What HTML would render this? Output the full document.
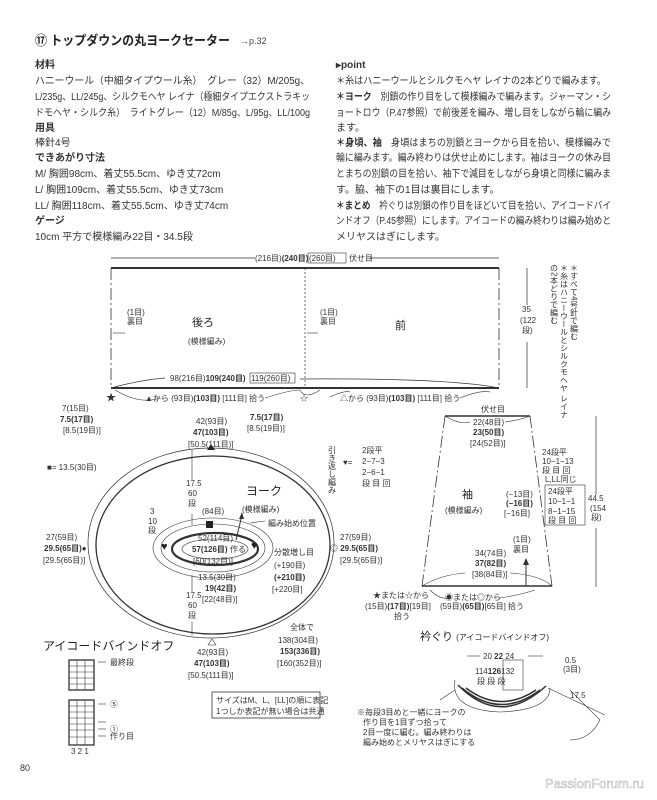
<!DOCTYPE html>
<html><head><meta charset="utf-8"><style>
body{margin:0;background:#fff;}
svg{display:block;font-family:"Liberation Sans","Noto Sans CJK JP",sans-serif;}
.t{font-size:10px;fill:#333;}
.s{font-size:8px;fill:#333;}
.b{font-weight:bold;}
</style></head><body>
<svg width="657" height="800" viewBox="0 0 657 800" xmlns="http://www.w3.org/2000/svg">
<!-- header -->
<text x="35" y="45" font-size="13" font-weight="bold" fill="#222" textLength="195" lengthAdjust="spacingAndGlyphs">⑰ トップダウンの丸ヨークセーター</text>
<text x="240" y="44" font-size="9" fill="#444">→p.32</text>
<g class="t" font-size="10">
<text x="35" y="68" class="b">材料</text>
<text x="35" y="84" textLength="275" lengthAdjust="spacingAndGlyphs">ハニーウール（中細タイプウール糸）　グレー（32）M/205g、</text>
<text x="35" y="100" textLength="275" lengthAdjust="spacingAndGlyphs">L/235g、LL/245g、シルクモヘヤ レイナ（極細タイプエクストラキッ</text>
<text x="35" y="116" textLength="275" lengthAdjust="spacingAndGlyphs">ドモヘヤ・シルク糸）　ライトグレー（12）M/85g、L/95g、LL/100g</text>
<text x="35" y="131" class="b">用具</text>
<text x="35" y="146">棒針4号</text>
<text x="35" y="161" class="b">できあがり寸法</text>
<text x="35" y="177">M/ 胸囲98cm、着丈55.5cm、ゆき丈72cm</text>
<text x="35" y="193">L/ 胸囲109cm、着丈55.5cm、ゆき丈73cm</text>
<text x="35" y="209">LL/ 胸囲118cm、着丈55.5cm、ゆき丈74cm</text>
<text x="35" y="224" class="b">ゲージ</text>
<text x="35" y="240">10cm 平方で模様編み22目・34.5段</text>
<text x="336" y="68" class="b">▸point</text>
<text x="336" y="84" textLength="270" lengthAdjust="spacingAndGlyphs">＊糸はハニーウールとシルクモヘヤ レイナの2本どりで編みます。</text>
<text x="336" y="100" textLength="275" lengthAdjust="spacingAndGlyphs"><tspan class="b">＊ヨーク</tspan>　別鎖の作り目をして模様編みで編みます。ジャーマン・シ</text>
<text x="336" y="116" textLength="275" lengthAdjust="spacingAndGlyphs">ョートロウ（P.47参照）で前後差を編み、増し目をしながら輪に編み</text>
<text x="336" y="131">ます。</text>
<text x="336" y="146" textLength="275" lengthAdjust="spacingAndGlyphs"><tspan class="b">＊身頃、袖</tspan>　身頃はまちの別鎖とヨークから目を拾い、模様編みで</text>
<text x="336" y="161" textLength="275" lengthAdjust="spacingAndGlyphs">輪に編みます。編み終わりは伏せ止めにします。袖はヨークの休み目</text>
<text x="336" y="177" textLength="275" lengthAdjust="spacingAndGlyphs">とまちの別鎖の目を拾い、袖下で減目をしながら身頃と同様に編みま</text>
<text x="336" y="193">す。脇、袖下の1目は裏目にします。</text>
<text x="336" y="209" textLength="275" lengthAdjust="spacingAndGlyphs"><tspan class="b">＊まとめ</tspan>　衿ぐりは別鎖の作り目をほどいて目を拾い、アイコードバイ</text>
<text x="336" y="224" textLength="275" lengthAdjust="spacingAndGlyphs">ンドオフ（P.45参照）にします。アイコードの編み終わりは編み始めと</text>
<text x="336" y="240">メリヤスはぎにします。</text>
</g>
<!-- vertical notes -->
<text x="574" y="264" class="s" style="writing-mode:vertical-rl">＊すべて4号針で編む</text>
<text x="564" y="264" class="s" style="writing-mode:vertical-rl">＊糸はハニーウールとシルクモヘヤ レイナ</text>
<text x="554" y="264" class="s" style="writing-mode:vertical-rl">の2本どりで編む</text>

<!-- body -->
<g stroke="#333" fill="none">
<line x1="111" y1="258" x2="255" y2="258" stroke-width="0.7"/><line x1="370" y1="258" x2="499" y2="258" stroke-width="0.7"/>
<line x1="111" y1="268" x2="499" y2="268" stroke-width="2"/>
<line x1="111" y1="388" x2="499" y2="388" stroke-width="2"/>
<line x1="111" y1="268" x2="111" y2="388" stroke-dasharray="12 3 2 3" stroke-width="0.8"/>
<line x1="499" y1="268" x2="499" y2="388" stroke-dasharray="12 3 2 3" stroke-width="0.8"/>
<line x1="305" y1="268" x2="305" y2="388" stroke-dasharray="2 2" stroke-width="0.7"/>
<line x1="527" y1="268" x2="527" y2="305" stroke-width="0.7"/><line x1="527" y1="342" x2="527" y2="388" stroke-width="0.7"/>
<path d="M111 388 Q140 380 165 378 M300 379 Q450 378 499 388" stroke-width="0.7"/>
<path d="M115 390 Q140 405 160 398 M265 398 Q290 390 300 390 M300 390 Q305 400 320 390 M330 397 Q345 390 350 392 M460 398 Q480 390 490 392" stroke-width="0.6"/>
<line x1="113" y1="333" x2="125" y2="333" stroke-width="0.6"/><line x1="307" y1="333" x2="318" y2="333" stroke-width="0.6"/>
</g>
<g class="s">
<text x="255" y="261">(216目)<tspan class="b">(240目)</tspan></text><rect x="308" y="253" width="38" height="10" fill="none" stroke="#333" stroke-width="0.6"/><text x="309" y="261">(260目)</text><text x="349" y="261">伏せ目</text>
<text x="127" y="315">(1目)</text><text x="127" y="324">裏目</text>
<text x="320" y="315">(1目)</text><text x="320" y="324">裏目</text>
<text x="522" y="312">35</text><text x="520" y="323">(122</text><text x="522" y="333">段)</text>
<text x="170" y="381">98(216目)<tspan class="b">109(240目)</tspan></text><rect x="250" y="373" width="45" height="10" fill="none" stroke="#333" stroke-width="0.6"/><text x="251" y="381">119(260目)</text>
<text x="106" y="401" font-size="10">★</text>
<text x="145" y="401">▲から (93目)<tspan class="b">(103目)</tspan> [111目] 拾う</text>
<text x="300" y="401">☆</text>
<text x="340" y="401">△から (93目)<tspan class="b">(103目)</tspan> [111目] 拾う</text>
<text x="62" y="411">7(15目)</text><text x="60" y="422" class="b">7.5(17目)</text><text x="63" y="433">[8.5(19目)]</text>
<text x="196" y="424">42(93目)</text><text x="193" y="435" class="b">47(103目)</text><text x="188" y="447">[50.5(111目)]</text>
<text x="250" y="420" class="b">7.5(17目)</text><text x="247" y="431">[8.5(19目)]</text>
</g>
<g font-size="11" fill="#222">
<text x="192" y="326">後ろ</text><text x="395" y="329">前</text>
</g>
<text x="188" y="344" class="s">(模様編み)</text>

<!-- yoke -->
<g fill="none" stroke="#333">
<ellipse cx="211" cy="543" rx="123" ry="95" stroke-width="0.7"/>
<ellipse cx="213" cy="545" rx="117" ry="89" stroke-width="1.3"/>
<ellipse cx="213" cy="548" rx="60" ry="30" stroke-width="0.6"/>
<ellipse cx="213" cy="548" rx="52" ry="24" stroke-width="0.6"/>
<ellipse cx="215" cy="549" rx="43" ry="16" stroke-width="2.2"/>
<ellipse cx="215" cy="549" rx="33" ry="10" stroke-width="0.6"/>
<line x1="192" y1="450" x2="192" y2="480" stroke-width="0.6"/><line x1="192" y1="514" x2="192" y2="525" stroke-width="0.6"/>
<line x1="192" y1="575" x2="192" y2="592" stroke-width="0.6"/><line x1="192" y1="622" x2="192" y2="635" stroke-width="0.6"/>
<line x1="236" y1="540" x2="242" y2="515" stroke-width="1"/>
<line x1="265" y1="521" x2="250" y2="523" stroke-width="0.6"/>
</g>
<path d="M242 512 l-3 7 l5 0 z" fill="#333"/>
<path d="M207 450 l4 -6 l4 6 z" fill="#222"/>
<path d="M208 645 l4 -6 l4 6 z" fill="none" stroke="#333" stroke-width="0.6"/>
<g class="s">
<text x="246" y="495" font-size="12" fill="#222">ヨーク</text>
<text x="242" y="512">(模様編み)</text>
<text x="186" y="486">17.5</text><text x="188" y="496">60</text><text x="188" y="506">段</text>
<text x="150" y="514">3</text><text x="148" y="524">10</text><text x="148" y="533">段</text>
<text x="202" y="514">(84目)</text>
<rect x="206" y="521" width="7" height="7" fill="#222"/>
<text x="268" y="526">編み始め位置</text>
<text x="161" y="550" font-size="11" fill="#222">♥</text><text x="251" y="549" font-size="11" fill="#222">♥</text>
<text x="198" y="541">52(114目)</text><text x="192" y="552" class="b">57(126目)</text><text x="230" y="552">作る</text><text x="193" y="564">[60(132目)]</text>
<text x="274" y="555">分散増し目</text><text x="274" y="568">(+190目)</text><text x="274" y="580" class="b">(+210目)</text><text x="272" y="592">[+220目]</text>
<text x="198" y="580">13.5(30目)</text><text x="205" y="591" class="b">19(42目)</text><text x="202" y="602">[22(48目)]</text>
<text x="186" y="598">17.5</text><text x="188" y="608">60</text><text x="188" y="618">段</text>
<text x="47" y="470">■= 13.5(30目)</text>
<text x="46" y="540">27(59目)</text><text x="44" y="551" class="b">29.5(65目)●</text><text x="43" y="563">[29.5(65目)]</text>
<text x="340" y="540">27(59目)</text><text x="330" y="551">◎ <tspan class="b">29.5(65目)</tspan></text><text x="340" y="563">[29.5(65目)]</text>
<text x="197" y="655">42(93目)</text><text x="194" y="666" class="b">47(103目)</text><text x="188" y="678">[50.5(111目)]</text>
<text x="290" y="630">全体で</text><text x="278" y="643">138(304目)</text><text x="280" y="654" class="b">153(336目)</text><text x="277" y="666">[160(352目)]</text>
<text x="332" y="446" style="writing-mode:vertical-rl">引き返し編み</text>
<text x="343" y="465">♥=</text>
<text x="362" y="453">2段平</text><text x="362" y="464">2−7−3</text><text x="362" y="475">2−6−1</text><text x="362" y="486">段 目 回</text>
</g>

<!-- sleeve -->
<g fill="none" stroke="#333">
<line x1="445" y1="416" x2="530" y2="416" stroke-width="1.5"/>
<line x1="422" y1="586" x2="552" y2="586" stroke-width="1.5"/>
<line x1="445" y1="416" x2="422" y2="586" stroke-dasharray="12 3 2 3" stroke-width="0.8"/>
<line x1="530" y1="416" x2="552" y2="586" stroke-dasharray="12 3 2 3" stroke-width="0.8"/>
<line x1="596" y1="416" x2="596" y2="495" stroke-width="0.7"/><line x1="596" y1="528" x2="596" y2="587" stroke-width="0.7"/>
<line x1="526" y1="586" x2="526" y2="562" stroke-width="1"/>
<path d="M445 416 Q460 425 470 422 M505 422 Q520 420 530 416 M422 586 Q440 575 465 573 M510 573 Q540 575 552 586" stroke-width="0.6"/>
<path d="M430 590 Q440 600 450 598 M500 598 Q520 595 535 590" stroke-width="0.6"/>
<rect x="545" y="485" width="40" height="40" stroke-width="0.6"/>
</g>
<path d="M526 558 l-3 7 l6 0 z" fill="#333"/>
<g class="s">
<text x="481" y="412">伏せ目</text>
<text x="473" y="425">22(48目)</text><text x="473" y="435" class="b">23(50目)</text><text x="470" y="446">[24(52目)]</text>
<text x="462" y="498" font-size="11" fill="#222">袖</text><text x="445" y="513">(模様編み)</text>
<text x="542" y="455">24段平</text><text x="542" y="464">10−1−13</text><text x="542" y="473">段 目 回</text>
<text x="545" y="482">L,LL同じ</text>
<text x="548" y="494">24段平</text><text x="548" y="504">10−1−1</text><text x="548" y="514">8−1−15</text><text x="548" y="523">段 目 回</text>
<text x="588" y="501">44.5</text><text x="590" y="511">(154</text><text x="591" y="520">段)</text>
<text x="506" y="497">(−13目)</text><text x="506" y="506" class="b">(−16目)</text><text x="504" y="516">[−16目]</text>
<text x="513" y="542">(1目)</text><text x="513" y="552">裏目</text>
<text x="475" y="556">34(74目)</text><text x="475" y="566" class="b">37(82目)</text><text x="472" y="577">[38(84目)]</text>
<text x="373" y="598">★または☆から</text>
<text x="365" y="609">(15目)<tspan class="b">(17目)</tspan>[19目]</text><text x="394" y="619">拾う</text>
<text x="445" y="600">◉または◎から</text>
<text x="440" y="609">(59目)<tspan class="b">(65目)</tspan>[65目] 拾う</text>
</g>

<!-- neck -->
<text x="420" y="640" font-size="11" fill="#222">衿ぐり <tspan font-size="8">(アイコードバインドオフ)</tspan></text>
<g fill="none" stroke="#333">
<line x1="467" y1="656" x2="480" y2="656" stroke-width="0.6"/><line x1="528" y1="656" x2="543" y2="656" stroke-width="0.6"/>
<path d="M462 688 Q500 720 540 690" stroke-width="1.5"/>
<path d="M466 688 Q500 714 536 690" stroke-width="1.5"/>
<path d="M458 685 Q500 728 546 686" stroke-width="1.5"/>
<path d="M455 680 Q450 710 500 712 Q550 710 550 688" stroke-width="0.6"/>
<path d="M440 700 L455 690 M548 688 L605 715 M570 690 L600 720 Q590 740 570 740" stroke-width="0.6"/>
<rect x="503" y="660" width="20" height="30" stroke-width="0.6"/>
</g>
<g class="s">
<text x="483" y="659">20 <tspan class="b">22</tspan> 24</text>
<text x="475" y="674">114<tspan class="b">126</tspan>132</text><text x="477" y="684">段 段 段</text>
<text x="565" y="663">0.5</text><text x="563" y="672">(3目)</text>
<text x="570" y="698">17.5</text>
<text x="357" y="715">※毎段3目めと一緒にヨークの</text>
<text x="363" y="725">作り目を1目ずつ拾って</text>
<text x="363" y="735">2目一度に編む。編み終わりは</text>
<text x="363" y="745">編み始めとメリヤスはぎにする</text>
</g>

<!-- i-cord chart -->
<text x="43" y="650" font-size="12" fill="#222">アイコードバインドオフ</text>
<g fill="none" stroke="#333" stroke-width="0.6">
<rect x="69" y="660" width="25" height="30" stroke-width="1.3"/>
<rect x="69" y="700" width="25" height="45" stroke-width="1.3"/>
<line x1="77" y1="660" x2="77" y2="690"/><line x1="85" y1="660" x2="85" y2="690"/>
<line x1="77" y1="700" x2="77" y2="745"/><line x1="85" y1="700" x2="85" y2="745"/>
<line x1="69" y1="666" x2="94" y2="666"/><line x1="69" y1="672" x2="94" y2="672"/><line x1="69" y1="678" x2="94" y2="678"/><line x1="69" y1="684" x2="94" y2="684"/>
<line x1="69" y1="706" x2="94" y2="706"/><line x1="69" y1="712" x2="94" y2="712"/><line x1="69" y1="718" x2="94" y2="718"/><line x1="69" y1="724" x2="94" y2="724"/><line x1="69" y1="730" x2="94" y2="730"/><line x1="69" y1="737" x2="94" y2="737"/>
<line x1="98" y1="662" x2="106" y2="662"/><line x1="98" y1="704" x2="106" y2="704"/><line x1="98" y1="722" x2="106" y2="722"/><line x1="98" y1="729" x2="106" y2="729"/><line x1="98" y1="736" x2="106" y2="736"/>
</g>
<g class="s">
<text x="110" y="665">最終段</text><text x="110" y="707">⑤</text><text x="110" y="732">①</text><text x="110" y="739">作り目</text>
<text x="71" y="754">3 2 1</text>
</g>
<rect x="212" y="692" width="108" height="26" fill="none" stroke="#333" stroke-width="0.8"/>
<text x="216" y="703" class="s">サイズはM、L、[LL]の順に表記</text>
<text x="216" y="714" class="s">1つしか表記が無い場合は共通</text>
<text x="20" y="771" font-size="9" fill="#333">80</text>
<text x="545" y="788" font-size="13" fill="#fff" stroke="#bbb" stroke-width="0.6">PassionForum.ru</text>
</svg>
</body></html>
